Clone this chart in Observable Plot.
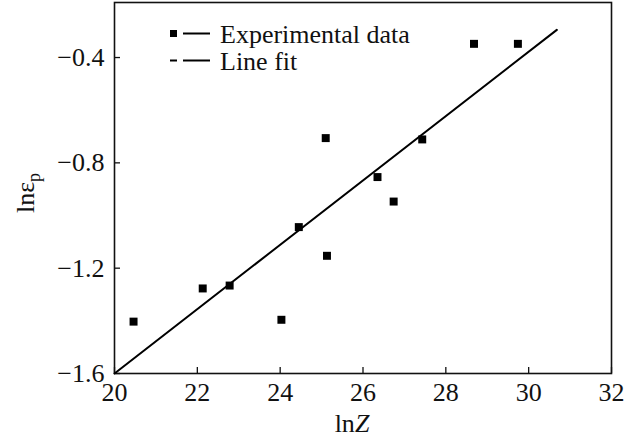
<!DOCTYPE html>
<html>
<head>
<meta charset="utf-8">
<script src="https://cdn.jsdelivr.net/npm/d3@7"></script>
<script src="https://cdn.jsdelivr.net/npm/@observablehq/plot@0.6"></script>
<style>
  html, body { margin: 0; padding: 0; background: #fff; }
  #chart svg { display: block; }
</style>
</head>
<body>
<div id="chart"></div>
<script>
// Experimental data (ln Z, ln ε_p)
const lnZ = [20.46, 22.13, 22.78, 24.03, 24.45, 25.10, 25.13, 26.35, 26.74, 27.43, 28.68, 29.74];
const lnEps = [-1.403, -1.277, -1.266, -1.396, -1.044, -0.706, -1.153, -0.854, -0.947, -0.711, -0.348, -0.348];
// Line fit endpoints
const fitX = [20, 30.68];
const fitY = [-1.6, -0.295];
// Ticks
const xTicks = [20, 22, 24, 26, 28, 30, 32];
const yTicks = [-1.6, -1.2, -0.8, -0.4];
const legendLabels = ["Experimental data", "Line fit"];

const points = lnZ.map((x, i) => ({x, y: lnEps[i]}));
const fit = fitX.map((x, i) => ({x, y: fitY[i]}));

const font = "'Liberation Serif', 'DejaVu Serif', serif";
const FS = 26;
const fmt = d => (d < 0 ? "\u2212" : "") + Math.abs(d).toFixed(1);

const plot = Plot.plot({
  width: 640,
  height: 441,
  marginLeft: 114,
  marginRight: 29,
  marginTop: 2,
  marginBottom: 68,
  style: {fontFamily: font, fontSize: FS + "px", color: "#111", background: "#fff"},
  x: {domain: [20, 32]},
  y: {domain: [-1.6, -0.191]},
  marks: [
    Plot.axisX(xTicks, {tickSize: -6, tickPadding: 15, label: null, tickFormat: d => d, stroke: "#111", strokeWidth: 1.3, fontSize: FS, fill: "#111"}),
    Plot.axisY(yTicks, {tickSize: -6, tickPadding: 16, label: null, tickFormat: fmt, stroke: "#111", strokeWidth: 1.3, fontSize: FS, fill: "#111"}),
    Plot.frame({stroke: "#111", strokeWidth: 1.6}),
    Plot.line(fit, {x: "x", y: "y", stroke: "#000", strokeWidth: 2}),
    Plot.dot(points, {x: "x", y: "y", symbol: "square", r: 4.5, fill: "#000", stroke: "none"})
  ]
});

document.getElementById("chart").appendChild(plot);

const svg = d3.select(plot);
// x-axis label: ln Z (italic Z)
const xl = svg.append("text")
  .attr("x", 352).attr("y", 432)
  .attr("text-anchor", "middle")
  .attr("font-family", font).attr("font-size", FS).attr("fill", "#111");
xl.append("tspan").text("ln");
xl.append("tspan").attr("font-style", "italic").text("Z");

// y-axis label: ln ε_p
const yl = svg.append("text")
  .attr("transform", "translate(34,193) rotate(-90)")
  .attr("text-anchor", "middle")
  .attr("font-family", font).attr("font-size", FS).attr("fill", "#111");
yl.append("tspan").text("ln\u03b5");
yl.append("tspan").attr("dy", 6).attr("font-size", 18).text("p");

// Legend
const lg = svg.append("g").attr("fill", "#111").attr("font-family", font).attr("font-size", FS).attr("text-anchor", "start");
const rows = [33.5, 60.5];
lg.append("rect").attr("x", 170).attr("y", rows[0] - 3.5).attr("width", 7).attr("height", 7).attr("fill", "#000");
lg.append("line").attr("x1", 170).attr("x2", 177).attr("y1", rows[1]).attr("y2", rows[1]).attr("stroke", "#000").attr("stroke-width", 2);
rows.forEach((ry, i) => {
  lg.append("line").attr("x1", 183).attr("x2", 210).attr("y1", ry).attr("y2", ry).attr("stroke", "#000").attr("stroke-width", 2);
  lg.append("text").attr("x", 220).attr("y", ry + 9).attr("text-anchor", "start").text(legendLabels[i]);
});
</script>
</body>
</html>
